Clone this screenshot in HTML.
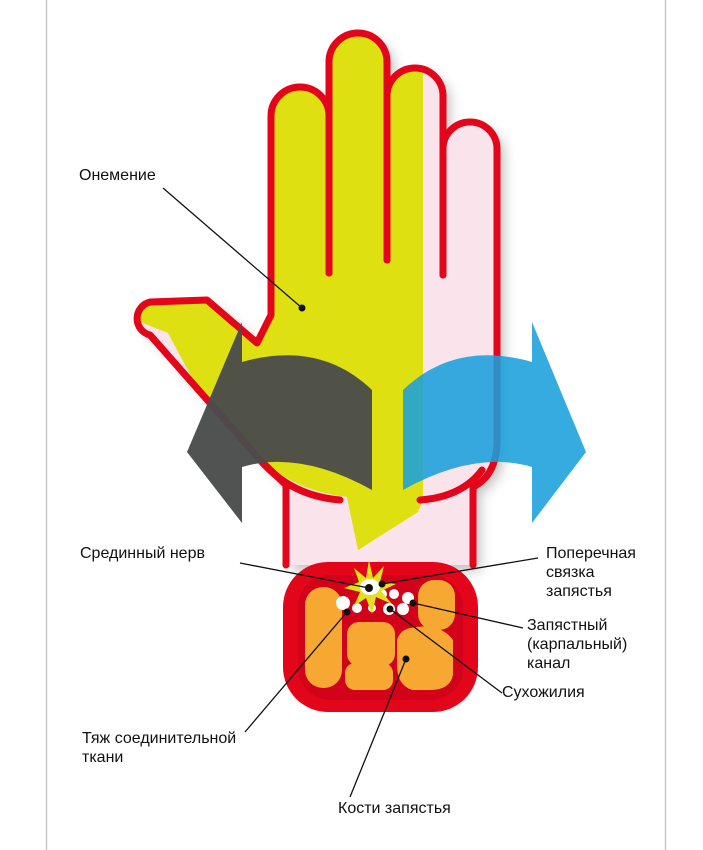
<!DOCTYPE html>
<html><head><meta charset="utf-8"><style>
html,body{margin:0;padding:0;background:#fff}
svg{display:block}
text{font-family:"Liberation Sans",Arial,sans-serif;font-size:16px;fill:#111}
</style></head><body>
<svg width="703" height="850" viewBox="0 0 703 850" xmlns="http://www.w3.org/2000/svg">
<defs>
<filter id="sh" x="-20%" y="-20%" width="140%" height="140%"><feDropShadow dx="7" dy="6" stdDeviation="6" flood-color="#000" flood-opacity="0.25"/></filter>
<clipPath id="hc"><path d="M286,565 V485 L262,462 L150,335 A17,17 0 0 1 150,302 L207,300 L257,343 L271,315 V116 A29,29 0 0 1 329,116 V62 A29,29 0 0 1 387,62 V96 A28,28 0 0 1 443,96 V149 A27,27 0 0 1 497,149 V440 Q497,475 473,487 V565 Z"/></clipPath>
</defs>
<line x1="46.5" y1="0" x2="46.5" y2="850" stroke="#c8c8c8" stroke-width="1.5"/>
<line x1="665.5" y1="0" x2="665.5" y2="850" stroke="#c8c8c8" stroke-width="1.5"/>
<g filter="url(#sh)">
<path d="M286,565 V485 L262,462 L150,335 A17,17 0 0 1 150,302 L207,300 L257,343 L271,315 V116 A29,29 0 0 1 329,116 V62 A29,29 0 0 1 387,62 V96 A28,28 0 0 1 443,96 V149 A27,27 0 0 1 497,149 V440 Q497,475 473,487 V565 Z" fill="#fbe3ec"/>
</g>
<g clip-path="url(#hc)">
<path d="M100,0 H423 V500 L418,512 L358,550 L347,497 Q300,492 262,462 L240,468 L168,333 L140,322 L100,0 Z" fill="#dfe012"/>
</g>
<path d="M358,550 L347,497 L420,497 L418,512 Z" fill="#dfe012"/>
<g stroke="#e3061a" stroke-width="7" stroke-linecap="round" stroke-linejoin="round" fill="none">
<path d="M286,565 V485 L262,462 L150,335 A17,17 0 0 1 150,302 L207,300 L257,343 L271,315 V116 A29,29 0 0 1 329,116 V273"/>
<path d="M329,273 V62 A29,29 0 0 1 387,62 V260"/>
<path d="M387,260 V96 A28,28 0 0 1 443,96 V275"/>
<path d="M443,275 V149 A27,27 0 0 1 497,149 V440 Q497,475 473,487 V565"/>
<path d="M262,462 Q292,496 340,500"/>
<path d="M420,500 Q462,497 482,470"/>
</g>
<!-- arrows -->
<path d="M242,322 L187,452 L242,523 V467 Q300,450 372,490 V390 Q320,340 242,362 Z" fill="#4a4c4b" opacity="0.96"/>
<path d="M532,322 L586,452 L532,523 V467 Q475,450 403,490 V390 Q455,340 532,362 Z" fill="#1a9fdc" opacity="0.88"/>
<!-- wrist box -->
<rect x="283" y="562" width="195" height="150" rx="45" fill="#e3061a"/>
<rect x="298" y="575" width="165" height="125" rx="32" fill="#d2021b"/>
<g fill="#f6a832">
<rect x="305" y="587" width="37" height="101" rx="18"/>
<rect x="347" y="622" width="48" height="44" rx="12"/>
<rect x="345" y="663" width="48" height="27" rx="10"/>
<rect x="418" y="580" width="37" height="50" rx="16"/>
<path d="M410,628 Q440,622 453,640 V675 Q450,690 430,690 H412 Q397,685 397,665 V640 Q400,630 410,628 Z"/>
</g>
<g fill="#fff">
<circle cx="343" cy="603" r="7"/><circle cx="357" cy="608" r="5"/><circle cx="382" cy="594" r="5"/><circle cx="394" cy="594" r="5"/><circle cx="408" cy="598" r="6"/><circle cx="389" cy="609" r="6"/><circle cx="403" cy="609" r="6"/><circle cx="372" cy="608" r="4"/>
</g>
<polygon points="369,560 373,578 384,566 380,582 396,584 381,591 392,604 376,597 372,614 366,598 354,606 360,592 344,588 359,582 354,568 366,578" fill="#e2e21a"/>
<ellipse cx="370" cy="587" rx="10" ry="8" fill="#fff"/>
<g stroke="#111" stroke-width="1.3">
<line x1="163" y1="188" x2="302" y2="308"/>
<line x1="240" y1="563" x2="369" y2="588"/>
<line x1="538" y1="558" x2="382" y2="584"/>
<line x1="523" y1="628" x2="413" y2="603"/>
<line x1="502" y1="693" x2="390" y2="609"/>
<line x1="245" y1="732" x2="347" y2="612"/>
<line x1="350" y1="797" x2="406" y2="659"/>
</g>
<g fill="#111">
<circle cx="302" cy="308" r="3.5"/><circle cx="369" cy="588" r="4"/><circle cx="382" cy="584" r="3.5"/><circle cx="413" cy="603" r="3.5"/><circle cx="390" cy="609" r="3.5"/><circle cx="347" cy="612" r="3.5"/><circle cx="406" cy="659" r="3.5"/>
</g>
<text x="79" y="180">Онемение</text>
<text x="80" y="558">Срединный нерв</text>
<text x="546" y="558">Поперечная</text>
<text x="546" y="577">связка</text>
<text x="546" y="596">запястья</text>
<text x="527" y="630">Запястный</text>
<text x="527" y="649">(карпальный)</text>
<text x="527" y="668">канал</text>
<text x="502" y="697">Сухожилия</text>
<text x="82" y="743">Тяж соединительной</text>
<text x="82" y="762">ткани</text>
<text x="338" y="813">Кости запястья</text>
</svg>
</body></html>
